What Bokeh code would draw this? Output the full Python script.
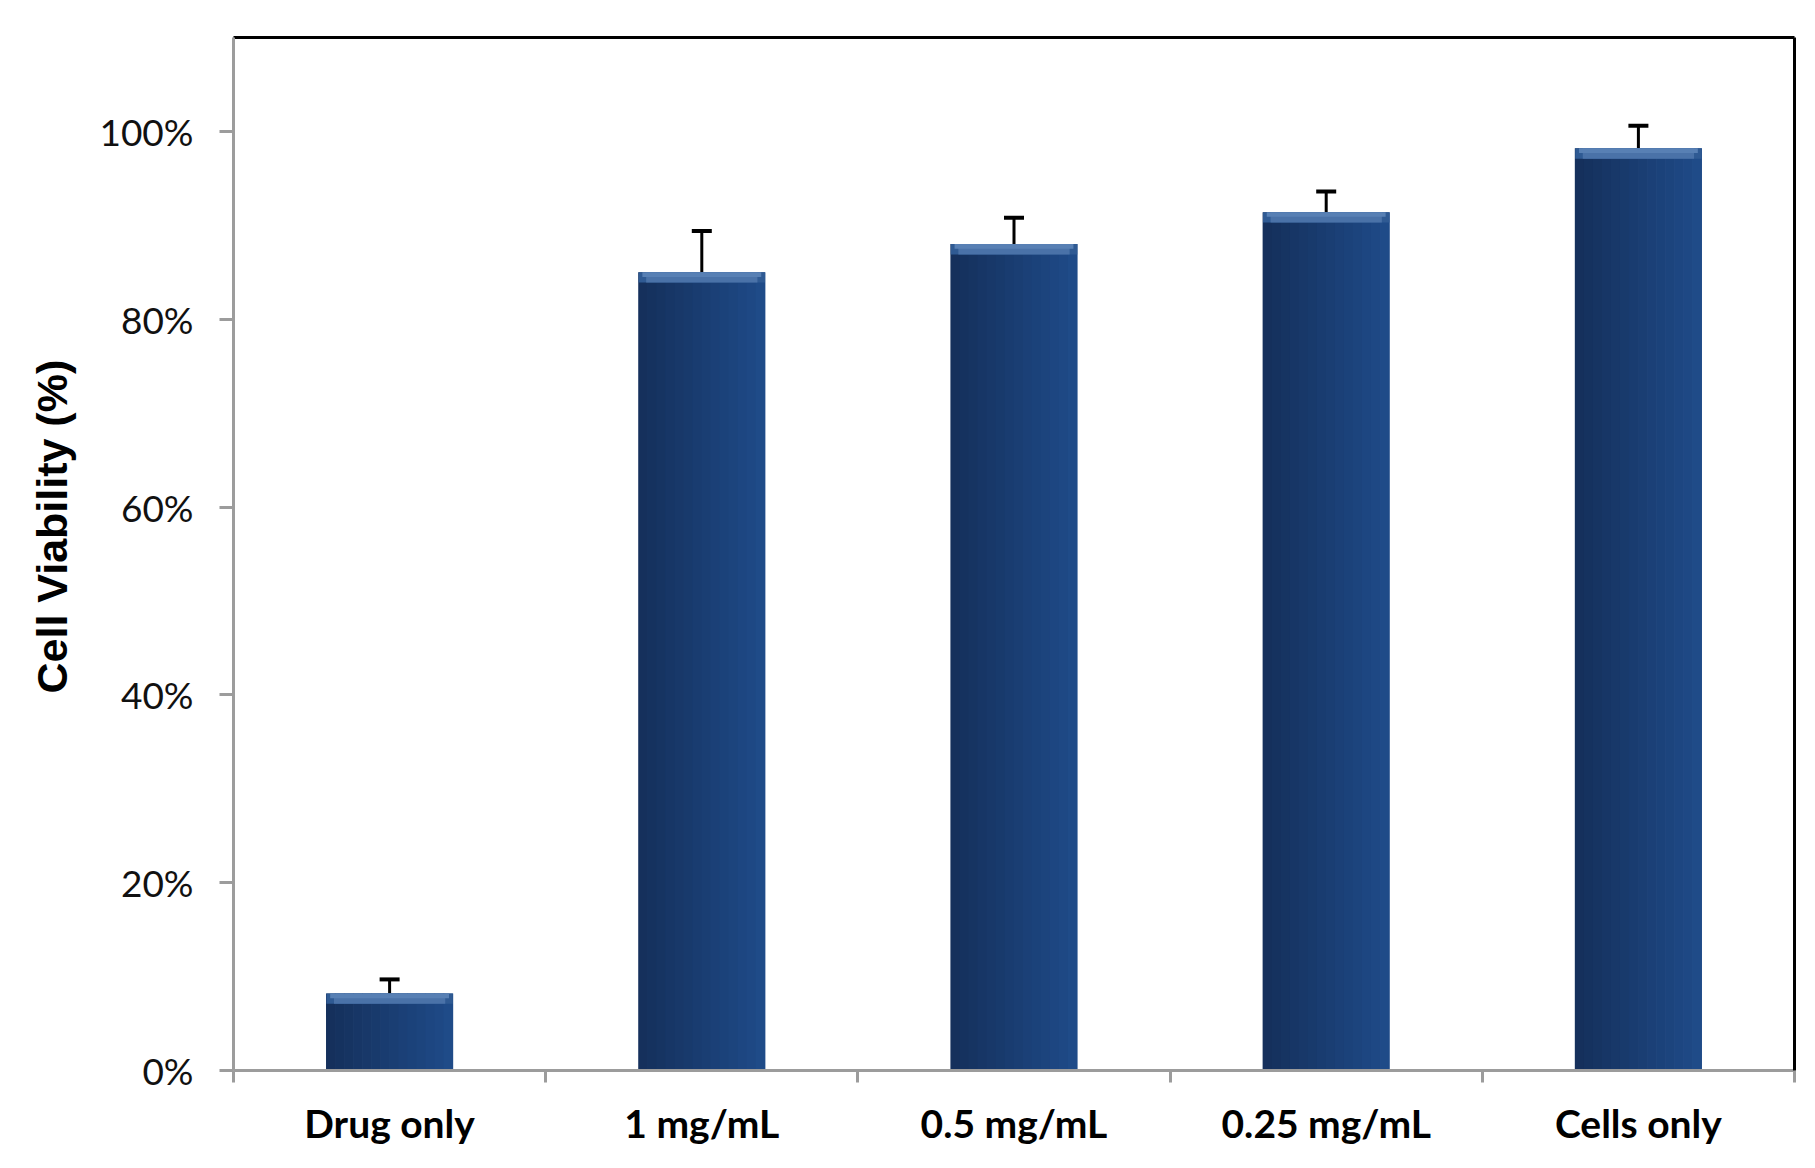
from bokeh.plotting import figure
from bokeh.models import (ColumnDataSource, FixedTicker, LinearAxis, Range1d,
                          Whisker, TeeHead, Title)
from bokeh.transform import dodge
from bokeh.embed import file_html
from bokeh.resources import INLINE

# ---- data ----
categories = ["Drug only", "1 mg/mL", "0.5 mg/mL", "0.25 mg/mL", "Cells only"]
viability = [8.2, 85.0, 88.0, 91.4, 98.2]      # %
error = [1.5, 4.4, 2.8, 2.2, 2.4]              # % (upper error)
y_ticks = [0, 20, 40, 60, 80, 100]
y_tick_labels = ["0%", "20%", "40%", "60%", "80%", "100%"]
y_title = "Cell Viability (%)"

FONT = "Lato"
xc = [i + 0.5 for i in range(len(categories))]
src = ColumnDataSource(dict(
    x=xc, cat=categories, top=viability,
    upper=[v + e for v, e in zip(viability, error)],
    bevel=[v - 1.1 for v in viability],
    bevel2=[v - 0.5 for v in viability],
))

p = figure(width=1800, height=1150, output_backend="svg", toolbar_location=None,
           x_range=Range1d(0, len(categories)), y_range=Range1d(0, 110),
           min_border_left=233, min_border_top=37, min_border_right=6,
           min_border_bottom=80)
p.outline_line_color = None
p.grid.visible = False
p.background_fill_color = "white"

# bars as shaded vertical slices (left darker -> right lighter)
bar_w = 0.405
n = 14
c0 = (0x15, 0x30, 0x5c)
c1 = (0x1f, 0x4b, 0x88)
sw = bar_w / n
for k in range(n):
    t = k / (n - 1)
    col = "#%02x%02x%02x" % tuple(int(a + (b - a) * t) for a, b in zip(c0, c1))
    off = -bar_w / 2 + sw * (k + 0.5)
    p.vbar(x=dodge("x", off), top="top", bottom=0, width=sw * 1.08, source=src,
           fill_color=col, line_color=None)

# bevel highlight at the top of each bar
p.vbar(x="x", top="top", bottom="bevel", width=bar_w, source=src,
       fill_color="#2f5a93", line_color=None)
p.vbar(x="x", top="top", bottom="bevel", width=bar_w * 0.88, source=src,
       fill_color="#4a72a8", line_color=None)
p.vbar(x="x", top="top", bottom="bevel2", width=bar_w * 0.94, source=src,
       fill_color="#5880b4", line_color=None)

# error bars (upper only)
wh = Whisker(source=src, base="x", upper="upper", lower="top",
             line_color="black", line_width=3,
             upper_head=TeeHead(size=20, line_color="black", line_width=4),
             lower_head=None)
p.add_layout(wh)

# y axis
ya = p.yaxis[0]
ya.ticker = FixedTicker(ticks=y_ticks)
ya.major_label_overrides = {t: l for t, l in zip(y_ticks, y_tick_labels)}
ya.minor_tick_line_color = None
ya.major_tick_in = 0
ya.major_tick_out = 14
ya.axis_line_color = "#9c9c9c"
ya.axis_line_width = 3
ya.major_tick_line_color = "#9c9c9c"
ya.major_tick_line_width = 3
ya.major_label_text_font = FONT
ya.major_label_text_font_size = "37px"
ya.major_label_text_color = "#111111"
ya.major_label_standoff = 26

# y title (sits a little above the frame centre, as in the original)
p.add_layout(Title(text=y_title, text_font="Liberation Sans",
                   text_font_size="43px", text_font_style="bold",
                   text_color="black", align="left", offset=377,
                   standoff=42), "left")

# x axis: labels at centres, ticks at category boundaries
xa = p.xaxis[0]
xa.ticker = FixedTicker(ticks=xc, minor_ticks=list(range(len(categories) + 1)))
xa.major_label_overrides = {x: c for x, c in zip(xc, categories)}
xa.major_tick_line_color = None
xa.major_tick_in = 0
xa.major_tick_out = 0
xa.minor_tick_in = 0
xa.minor_tick_out = 12
xa.minor_tick_line_color = "#9c9c9c"
xa.minor_tick_line_width = 3
xa.axis_line_color = "#9c9c9c"
xa.axis_line_width = 3
xa.major_label_text_font = FONT
xa.major_label_text_font_size = "39px"
xa.major_label_text_font_style = "bold"
xa.major_label_text_color = "black"
xa.major_label_standoff = 17

# black frame on top and right
for side in ("above", "right"):
    ax = LinearAxis(ticker=FixedTicker(ticks=[]), axis_line_color="black",
                    axis_line_width=3, major_tick_line_color=None,
                    minor_tick_line_color=None, major_label_text_font_size="0px")
    p.add_layout(ax, side)

open("out.html", "w").write(file_html(p, INLINE))
